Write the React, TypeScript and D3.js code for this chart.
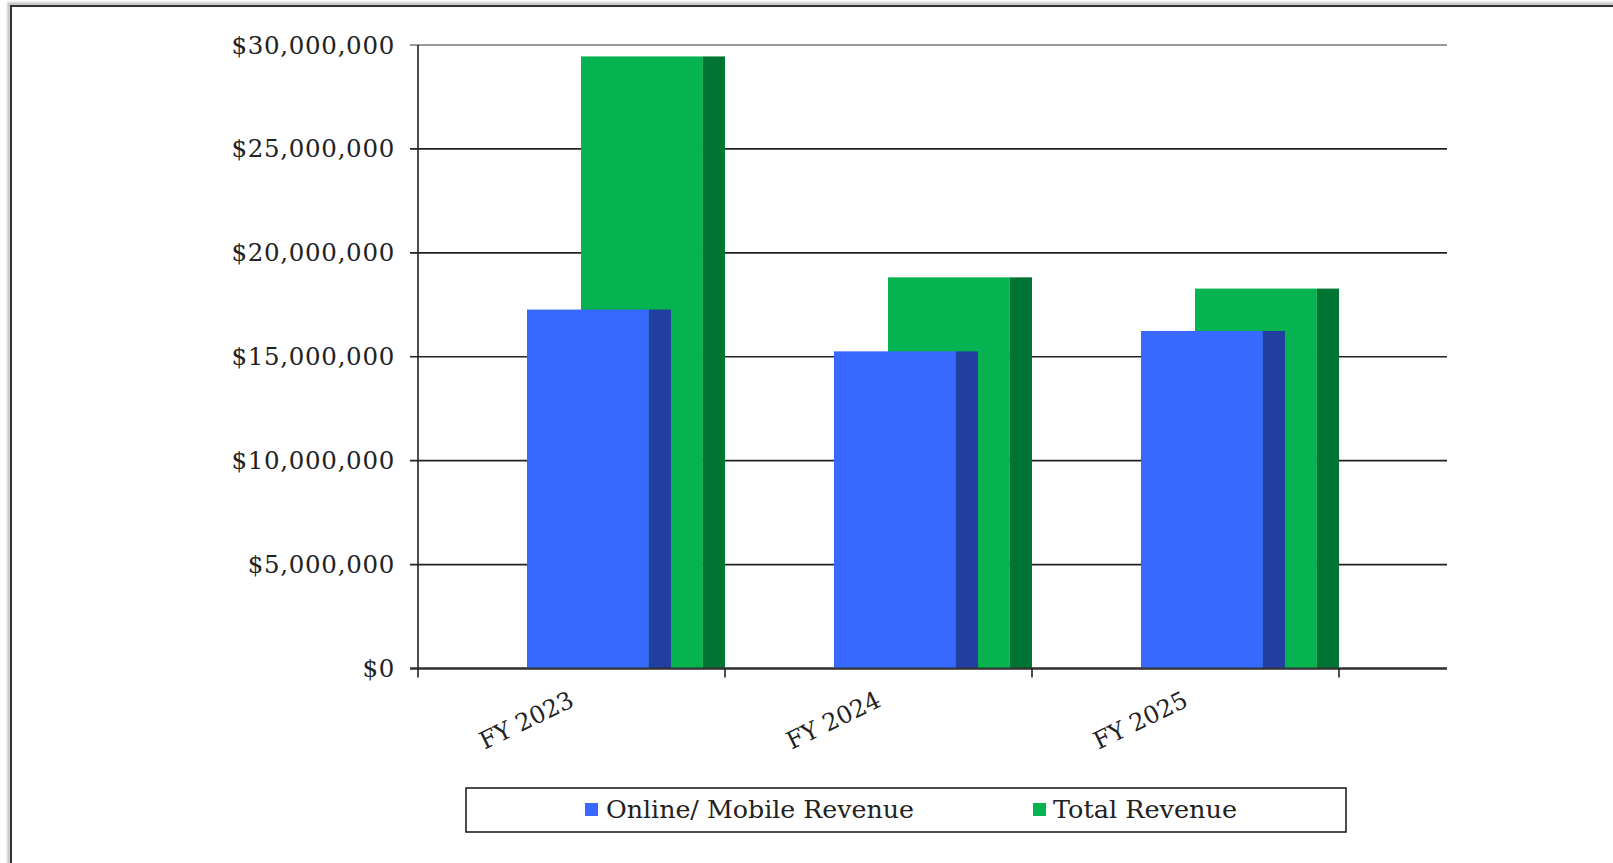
import React from "react";
import * as d3 from "d3";

const categories = ["FY 2023", "FY 2024", "FY 2025"];
const onlineRevenue = [17270000, 15260000, 16240000];
const totalRevenue = [29450000, 18820000, 18280000];
const yTicks = [0, 5000000, 10000000, 15000000, 20000000, 25000000, 30000000];
const seriesNames = ["Online/ Mobile Revenue", "Total Revenue"];

const W = 1613;
const H = 863;
const x0 = 418;
const x1 = 1339;
const gridRight = 1447;
const yTop = 45;
const yBottom = 668.5;

const colors = {
  blueFront: "#3769FF",
  blueSide: "#203FA0",
  greenFront: "#05B350",
  greenSide: "#007432",
};

export default function App() {
  const x = d3.scaleBand<string>().domain(categories).range([x0, x1]).padding(0);
  const y = d3.scaleLinear().domain([0, 30000000]).range([yBottom, yTop]);
  const bw = x.bandwidth();
  const fmt = (v: number) => "$" + d3.format(",")(v);

  const frontW = bw * 0.397;
  const sideW = bw * 0.072;
  const blueOff = bw * 0.355;
  const greenOff = bw * 0.531;

  const font = "'DejaVu Serif', serif";

  return (
    <svg
      width={W}
      height={H}
      style={{ position: "absolute", left: 0, top: 0, background: "#fff" }}
    >
      <defs>
        <filter id="sh" x="-5%" y="-5%" width="110%" height="110%">
          <feGaussianBlur stdDeviation="1" />
        </filter>
      </defs>
      {/* outer frame */}
      <rect x={9} y={4} width={W + 20} height={H + 20} fill="none" stroke="#bbb" strokeWidth={3} filter="url(#sh)" />
      <rect x={11} y={6} width={W + 20} height={H + 20} fill="none" stroke="#333" strokeWidth={2} />

      {/* gridlines */}
      {yTicks.map((t) => (
        <g key={t}>
          <line x1={x0 - 8} x2={gridRight} y1={y(t)} y2={y(t)} stroke={t === 30000000 ? "#777" : "#222"} strokeWidth={t === 0 ? 2 : 1.6} />
          <text
            x={395}
            y={y(t)}
            textAnchor="end"
            dominantBaseline="central"
            fontFamily={font}
            fontSize={24.5}
            fill="#222"
            letterSpacing={0.7}
          >
            {fmt(t)}
          </text>
        </g>
      ))}

      {/* bars */}
      {categories.map((c, i) => {
        const bx = x(c) as number;
        const gTop = y(totalRevenue[i]);
        const bTop = y(onlineRevenue[i]);
        return (
          <g key={c}>
            <rect x={bx + greenOff} y={gTop} width={frontW} height={yBottom - gTop} fill={colors.greenFront} />
            <rect x={bx + greenOff + frontW} y={gTop} width={sideW} height={yBottom - gTop} fill={colors.greenSide} />
            <rect x={bx + blueOff} y={bTop} width={frontW} height={yBottom - bTop} fill={colors.blueFront} />
            <rect x={bx + blueOff + frontW} y={bTop} width={sideW} height={yBottom - bTop} fill={colors.blueSide} />
          </g>
        );
      })}

      {/* baseline redraw */}
      <line x1={x0 - 8} x2={gridRight} y1={yBottom} y2={yBottom} stroke="#333" strokeWidth={2} />
      {/* y axis */}
      <line x1={x0} x2={x0} y1={yTop} y2={yBottom + 9} stroke="#222" strokeWidth={1.6} />
      {/* category ticks */}
      {categories.map((c) => {
        const tx = (x(c) as number) + bw;
        return <line key={c} x1={tx} x2={tx} y1={yBottom} y2={yBottom + 9} stroke="#222" strokeWidth={1.6} />;
      })}
      {/* category labels */}
      {categories.map((c) => {
        const cx = (x(c) as number) + bw / 2 + 4;
        const cy = yBottom + 37;
        return (
          <text
            key={c}
            x={cx}
            y={cy}
            textAnchor="end"
            fontFamily={font}
            fontSize={24}
            fill="#222"
            transform={`rotate(-26 ${cx} ${cy})`}
          >
            {c}
          </text>
        );
      })}

      {/* legend */}
      <rect x={466} y={788} width={880} height={44} fill="#fff" stroke="#222" strokeWidth={1.6} />
      <rect x={585} y={803} width={13} height={13} fill={colors.blueFront} />
      <text x={606} y={818} fontFamily={font} fontSize={24} fill="#222" textLength={308} lengthAdjust="spacingAndGlyphs">
        {seriesNames[0]}
      </text>
      <rect x={1033} y={803} width={13} height={13} fill={colors.greenFront} />
      <text x={1053} y={818} fontFamily={font} fontSize={24} fill="#222" textLength={184} lengthAdjust="spacingAndGlyphs">
        {seriesNames[1]}
      </text>
    </svg>
  );
}
